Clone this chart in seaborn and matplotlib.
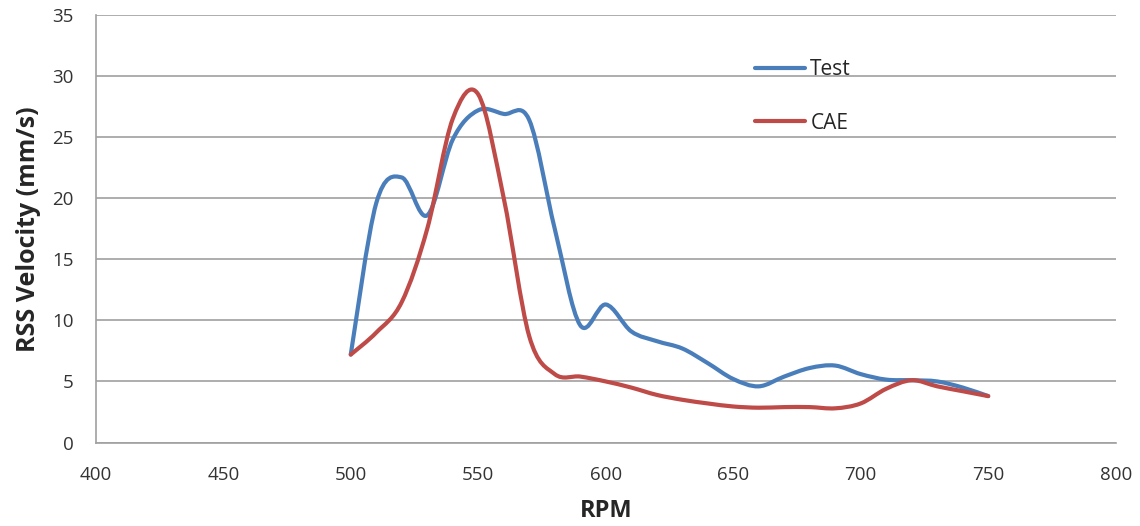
import numpy as np
import pandas as pd
import matplotlib
matplotlib.use("Agg")
import matplotlib.pyplot as plt
from matplotlib.path import Path
from matplotlib.patches import PathPatch
import seaborn as sns

# values (RPM steps of 10)
rpm = [500, 510, 520, 530, 540, 550, 560, 570, 580, 590, 600, 610, 620, 630,
       640, 650, 660, 670, 680, 690, 700, 710, 720, 730, 740, 750]
test = [7.2, 19.6, 21.7, 18.6, 24.8, 27.2, 26.9, 26.4, 17.5, 9.6, 11.3, 9.1, 8.3, 7.7,
        6.5, 5.2, 4.6, 5.4, 6.1, 6.3, 5.6, 5.15, 5.1, 5.0, 4.5, 3.8]
cae = [7.2, 9.0, 11.5, 17.5, 26.5, 28.5, 20.0, 8.7, 5.6, 5.4, 5.0, 4.5, 3.9, 3.5,
       3.2, 2.95, 2.85, 2.9, 2.9, 2.8, 3.2, 4.4, 5.1, 4.6, 4.2, 3.8]
series_names = ["Test", "CAE"]
colors = {"Test": "#4A7EBB", "CAE": "#BE4B48"}

df = pd.concat([
    pd.DataFrame({"RPM": rpm, "Velocity": test, "Series": "Test"}),
    pd.DataFrame({"RPM": rpm, "Velocity": cae, "Series": "CAE"}),
])

sns.set_style("white")
plt.rcParams['font.family'] = ['Open Sans', 'DejaVu Sans']

fig = plt.figure(figsize=(11.4, 5.26), dpi=100)
ax = fig.add_axes([0.084, 0.1587, 0.8947, 0.8128])

ax = sns.lineplot(data=df, x="RPM", y="Velocity", hue="Series", hue_order=series_names,
                  palette=colors, linewidth=3, ax=ax, sort=False)


def smooth_path(xs, ys):
    # Excel-style smoothed line: cubic Bezier segments through the points
    pts = np.column_stack([xs, ys])
    n = len(pts)
    verts = [pts[0]]
    codes = [Path.MOVETO]
    for i in range(n - 1):
        p0 = pts[i - 1] if i > 0 else pts[i]
        p1 = pts[i]
        p2 = pts[i + 1]
        p3 = pts[i + 2] if i + 2 < n else pts[i + 1]
        c1 = p1 + (p2 - p0) / 6.0
        c2 = p2 - (p3 - p1) / 6.0
        verts += [c1, c2, p2]
        codes += [Path.CURVE4] * 3
    return Path(verts, codes)


# swap the straight seaborn lines for smoothed curves
for line in list(ax.lines):
    xs, ys = line.get_xdata(), line.get_ydata()
    if len(xs) < 3:
        continue
    patch = PathPatch(smooth_path(np.asarray(xs, float), np.asarray(ys, float)),
                      facecolor="none", edgecolor=line.get_color(), lw=3,
                      capstyle="round", joinstyle="round", zorder=3)
    ax.add_patch(patch)
    line.set_visible(False)

ax.set_xlim(400, 800)
ax.set_ylim(0, 35)
ax.set_xticks(range(400, 801, 50))
ax.set_yticks(range(0, 36, 5))
ax.yaxis.grid(True, color="#A0A0A0", linewidth=1.2)
ax.xaxis.grid(False)
for side in ["top", "right"]:
    ax.spines[side].set_visible(False)
for side in ["left", "bottom"]:
    ax.spines[side].set_color("#A0A0A0")
    ax.spines[side].set_linewidth(1.2)
ax.tick_params(axis="both", which="major", length=6, width=1.2, color="#A0A0A0",
               labelsize=13.5, labelcolor="#333333", direction="out")
ax.tick_params(axis="x", pad=11)
ax.tick_params(axis="y", pad=10)
ax.set_xlabel("RPM", fontsize=17, fontweight="bold", labelpad=11)
ax.set_ylabel("RSS Velocity (mm/s)", fontsize=18, fontweight="bold", labelpad=8)

leg = ax.legend(loc="upper left", bbox_to_anchor=(0.628, 0.94), frameon=False,
                fontsize=15, handlelength=2.4, handletextpad=0.25, labelspacing=1.55)
for h in leg.get_lines():
    h.set_linewidth(3)
    h.set_solid_capstyle("round")

fig.savefig("out.png", dpi=100)
